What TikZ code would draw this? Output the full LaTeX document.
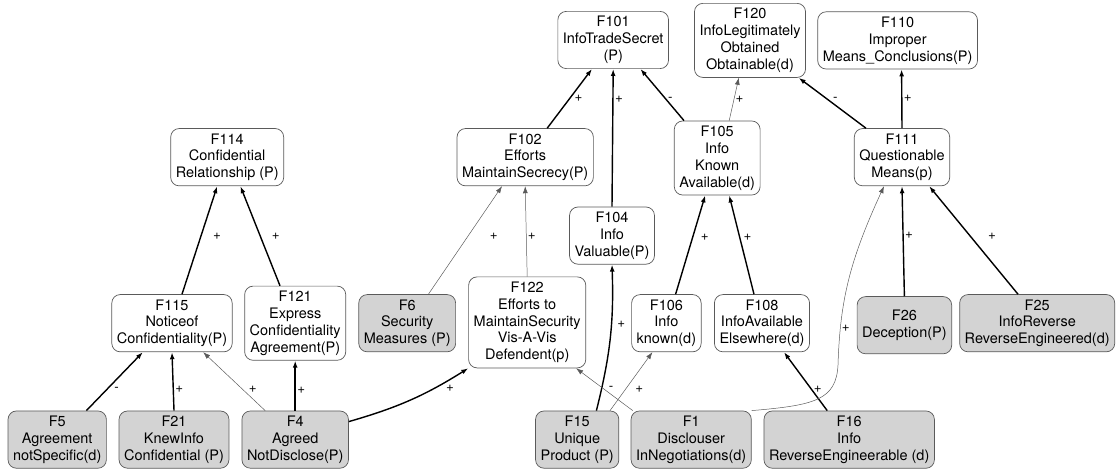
\documentclass[tikz,border=0pt]{standalone}
\usepackage{fontspec}
\setmainfont{TeX Gyre Heros}
\usepackage{tikz}
\usetikzlibrary{arrows.meta, positioning}
\definecolor{FactorGrey}{HTML}{D3D3D3}
\definecolor{BoxLine}{HTML}{5A5A5A}

\begin{document}
\begin{tikzpicture}[
        factor/.style={draw=BoxLine, line width=0.5pt, rounded corners=6pt, align=center, fill=white,
            font=\fontsize{10.3}{12}\selectfont, inner xsep=3.6pt, inner ysep=3.5pt, minimum height=1.43cm},
        given/.style={factor, fill=FactorGrey},
        thickarc/.style={-{Latex[length=5pt,width=3.5pt]}, line width=1pt},
        thinarc/.style={-{Latex[length=5pt,width=3.5pt]}, line width=0.35pt, draw=BoxLine},
        sgn/.style={font=\fontsize{9.5}{10}\selectfont, inner sep=1pt, anchor=west}
    ]
        \useasboundingbox (0,0) rectangle (27.9,-11.75);

        % --- 1. Top row (issues) ---
        \node[factor] (F101) at (15.33,-1.0) {F101\\InfoTradeSecret\\(P)};
        \node[factor] (F120) at (18.75,-1.01) {F120\\InfoLegitimately\\Obtained\\Obtainable(d)};
        \node[factor] (F110) at (22.44,-1.01) {F110\\Improper\\Means\_Conclusions(P)};

        % --- 2. Intermediate factors ---
        \node[factor] (F114) at (5.68,-3.93) {F114\\Confidential\\Relationship (P)};
        \node[factor] (F102) at (13.13,-3.93) {F102\\Efforts\\MaintainSecrecy(P)};
        \node[factor] (F105) at (17.93,-3.95) {F105\\Info\\Known\\Available(d)};
        \node[factor] (F111) at (22.55,-3.93) {F111\\Questionable\\Means(p)};
        \node[factor] (F104) at (15.3,-5.89) {F104\\Info\\Valuable(P)};

        \node[factor] (F115) at (4.3,-8.08) {F115\\Noticeof\\Confidentiality(P)};
        \node[factor] (F121) at (7.38,-8.08) {F121\\Express\\Confidentiality\\Agreement(P)};
        \node[given]  (F6) at (10.18,-8.08) {F6\\Security\\Measures (P)};
        \node[factor] (F122) at (13.18,-8.06) {F122\\Efforts to\\MaintainSecurity\\Vis-A-Vis\\Defendent(p)};
        \node[factor] (F106) at (16.66,-8.08) {F106\\Info\\known(d)};
        \node[factor] (F108) at (19.05,-8.08) {F108\\InfoAvailable\\Elsewhere(d)};
        \node[given]  (F26) at (22.61,-8.13) {F26\\Deception(P)};
        \node[given]  (F25) at (25.93,-8.08) {F25\\InfoReverse\\ReverseEngineered(d)};

        % --- 3. Base factors (bottom row) ---
        \node[given] (F5) at (1.43,-10.99) {F5\\Agreement\\notSpecific(d)};
        \node[given] (F21) at (4.35,-10.99) {F21\\KnewInfo\\Confidential (P)};
        \node[given] (F4) at (7.38,-10.99) {F4\\Agreed\\NotDisclose(P)};
        \node[given] (F15) at (14.43,-10.99) {F15\\Unique\\Product (P)};
        \node[given] (F1) at (17.28,-10.99) {F1\\Disclouser\\InNegotiations(d)};
        \node[given] (F16) at (21.23,-10.99) {F16\\Info\\ReverseEngineerable (d)};

        % --- 4. Links ---
        % confidential relationship
        \draw[thickarc] ([xshift=0.25cm]F115.north) -- ([xshift=-0.25cm]F114.south) node[sgn, pos=.54, xshift=0.25cm] {+};
        \draw[thickarc] ([xshift=-0.38cm]F121.north) -- ([xshift=0.33cm]F114.south) node[sgn, pos=.5, xshift=0.24cm] {+};
        \draw[thickarc] ([xshift=0.73cm]F5.north) -- ([xshift=-0.73cm]F115.south) node[sgn, pos=.36, xshift=0.14cm] {-};
        \draw[thickarc] (F21.north) -- (F115.south) node[sgn, pos=.36] {+};
        \draw[thinarc] ([xshift=-0.75cm]F4.north) -- ([xshift=0.78cm]F115.south) node[sgn, pos=.36, xshift=0.11cm] {+};
        \draw[thickarc] (F4.north) -- (F121.south) node[sgn, pos=.41] {+};
        \draw[thickarc] ([yshift=0.45cm]F4.east) to[bend right=8] node[sgn, pos=.8, anchor=north west] {+} (F122.south west);

        % secrecy
        \draw[thinarc] ([xshift=0.53cm]F6.north) -- ([xshift=-0.58cm]F102.south) node[sgn, pos=.54, xshift=0.5cm] {+};
        \draw[thinarc] (F122.north) -- (F102.south) node[sgn, pos=.45] {+};
        \draw[thickarc] ([xshift=0.55cm]F102.north) -- ([xshift=-0.53cm]F101.south) node[sgn, pos=.5, xshift=0.07cm] {+};
        \draw[thickarc] (F104.north) -- (F101.south) node[sgn, pos=.78] {+};
        \draw[thickarc] ([xshift=-0.83cm]F105.north) -- ([xshift=0.68cm]F101.south) node[sgn, pos=.41] {-};
        \draw[thinarc] ([xshift=0.3cm]F105.north) -- ([xshift=-0.28cm]F120.south) node[sgn, pos=.5] {+};

        % improper means
        \draw[thickarc] ([xshift=-0.9cm]F111.north) -- ([xshift=-0.18cm]F120.south east) node[sgn, pos=.58, xshift=0.1cm] {-};
        \draw[thickarc] (F111.north) -- ([xshift=0.1cm]F110.south) node[sgn, pos=.5] {+};
        \draw[thickarc] (F26.north) -- (F111.south) node[sgn, pos=.55] {+};
        \draw[thickarc] ([xshift=-0.48cm]F25.north) -- ([xshift=0.68cm]F111.south) node[sgn, pos=.54, xshift=0.4cm] {+};

        % availability
        \draw[thickarc] ([xshift=0.23cm]F106.north) -- ([xshift=-0.3cm]F105.south) node[sgn, pos=.58, xshift=0.15cm] {+};
        \draw[thickarc] ([xshift=-0.2cm]F108.north) -- ([xshift=0.3cm]F105.south) node[sgn, pos=.58, xshift=0.05cm] {+};
        \draw[thickarc] ([xshift=-0.55cm]F16.north) -- ([xshift=0.55cm]F108.south) node[sgn, pos=.36] {+};
        \draw[thickarc] ([xshift=0.48cm]F15.north) to[bend right=8] node[sgn, pos=.6, xshift=0.1cm] {+} (F104.south);
        \draw[thinarc] ([xshift=-0.23cm]F15.north east) -- ([xshift=-0.35cm]F106.south) node[sgn, pos=.37, xshift=0.2cm] {+};
        \draw[thinarc] ([xshift=0.05cm]F1.north west) -- ([xshift=-0.25cm]F122.south east) node[sgn, pos=.52, xshift=0.1cm] {-};
        \draw[thinarc] (F1.north east) .. controls (20.38,-10.13) and (20.9,-10.0) .. (20.95,-9.13)
            .. controls (21.0,-7.5) and (21.25,-6.5) .. ([xshift=-0.45cm]F111.south) node[sgn, pos=.2] {+};

    \end{tikzpicture}
\end{document}
